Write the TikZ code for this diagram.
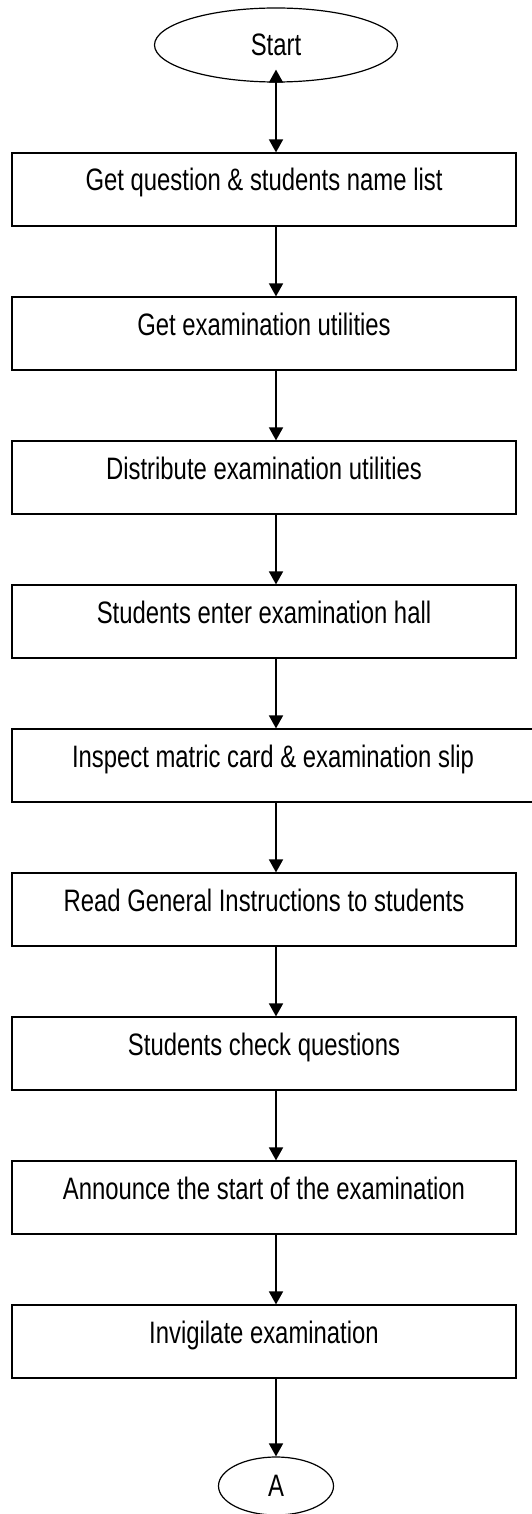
\documentclass[tikz,border=0pt]{standalone}
\usepackage{fontspec}
\setmainfont[FakeStretch=0.77]{Liberation Sans}
\usetikzlibrary{shapes.geometric,arrows.meta}
\begin{document}
\begin{tikzpicture}[x=1pt,y=-1pt,
  font=\fontsize{31}{37}\selectfont,
  stepbox/.style={draw,line width=1.2pt,rectangle,inner sep=0pt,
    minimum width=504pt,text height=38pt,text depth=35pt},
  term/.style={draw,line width=1.2pt,ellipse,inner sep=0pt},
  arr/.style={line width=1.7pt,-{Triangle[width=14pt,length=13pt]}},
  biarr/.style={line width=1.7pt,{Triangle[width=14pt,length=13pt]}-{Triangle[width=14pt,length=13pt]}}]
\useasboundingbox (0,0) rectangle (532,1514);
\node[term,minimum width=243pt,minimum height=74pt] (s) at (276,45) {Start};
\node[stepbox] (b1) at (264,189.5) {Get question \& students name list};
\node[stepbox] (b2) at (264,333.5) {Get examination utilities};
\node[stepbox] (b3) at (264,477.5) {Distribute examination utilities};
\node[stepbox] (b4) at (264,621.5) {Students enter examination hall};
\node[stepbox,minimum width=522pt] (b5) at (273,765.5) {Inspect matric card \& examination slip};
\node[stepbox] (b6) at (264,909.5) {Read General Instructions to students};
\node[stepbox] (b7) at (264,1053.5) {Students check questions};
\node[stepbox] (b8) at (264,1197.5) {Announce the start of the examination};
\node[stepbox] (b9) at (264,1341.5) {Invigilate examination};
\node[term,minimum width=115pt,minimum height=58pt] (a) at (276,1486) {A};
\draw[biarr] ([yshift=13pt]s.south) -- (s.south |- b1.north);
\draw[arr] (b1.south -| s.south) -- (b2.north -| s.south);
\draw[arr] (b2.south -| s.south) -- (b3.north -| s.south);
\draw[arr] (b3.south -| s.south) -- (b4.north -| s.south);
\draw[arr] (b4.south -| s.south) -- (b5.north -| s.south);
\draw[arr] (b5.south -| s.south) -- (b6.north -| s.south);
\draw[arr] (b6.south -| s.south) -- (b7.north -| s.south);
\draw[arr] (b7.south -| s.south) -- (b8.north -| s.south);
\draw[arr] (b8.south -| s.south) -- (b9.north -| s.south);
\draw[arr] (b9.south -| s.south) -- (a.north);
\end{tikzpicture}
\end{document}
